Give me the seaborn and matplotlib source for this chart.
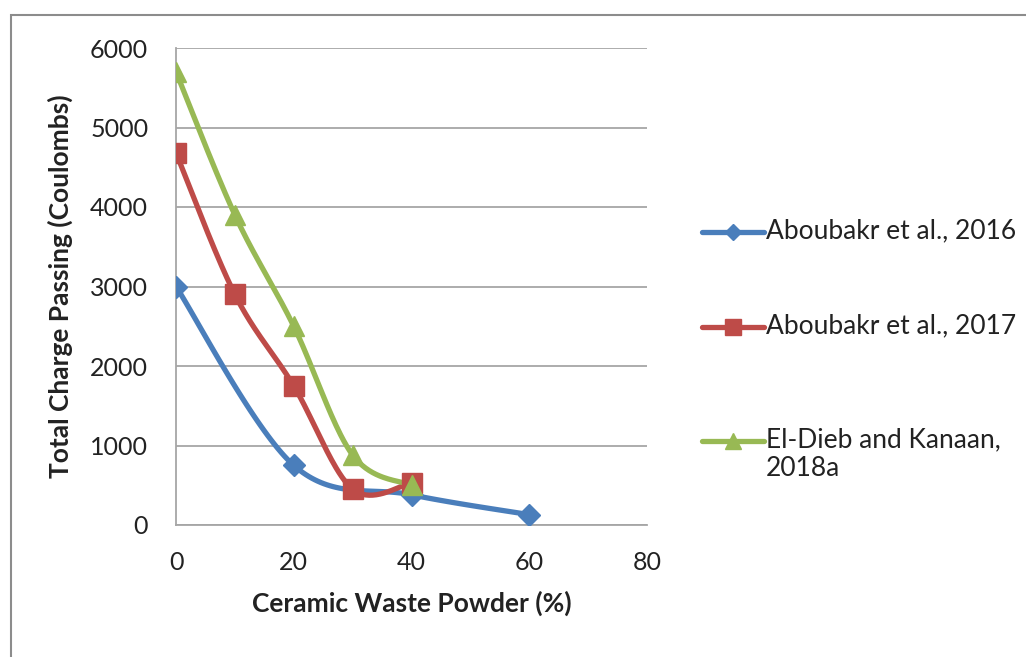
import numpy as np
import pandas as pd
import seaborn as sns
import matplotlib.pyplot as plt
from matplotlib.lines import Line2D
from matplotlib.patches import Rectangle

# Rapid chloride penetration data (total charge passing vs ceramic waste powder content)
series_names = ["Aboubakr et al., 2016", "Aboubakr et al., 2017", "El-Dieb and Kanaan,\n2018a"]
cwp_2016 = [0, 20, 40, 60]
charge_2016 = [3000, 750, 380, 130]
cwp_2017 = [0, 10, 20, 30, 40]
charge_2017 = [4680, 2900, 1750, 450, 530]
cwp_2018 = [0, 10, 20, 30, 40]
charge_2018 = [5700, 3900, 2500, 880, 500]

x_ticks = [0, 20, 40, 60, 80]
y_ticks = [0, 1000, 2000, 3000, 4000, 5000, 6000]

colors = ["#4A7EBB", "#BE4B48", "#98B954"]
markers = ["D", "s", "^"]
marker_sizes = [11, 15, 15]


def smooth(xs, ys, n=40):
    """Catmull-Rom spline through the points (spreadsheet-style smoothed line)."""
    p = np.column_stack([xs, ys]).astype(float)
    k = len(p)
    tang = np.zeros_like(p)
    for i in range(k):
        a = p[max(i - 1, 0)]
        b = p[min(i + 1, k - 1)]
        tang[i] = (b - a) / 2.0
    out = []
    t = np.linspace(0, 1, n)
    h00 = 2 * t**3 - 3 * t**2 + 1
    h10 = t**3 - 2 * t**2 + t
    h01 = -2 * t**3 + 3 * t**2
    h11 = t**3 - t**2
    for i in range(k - 1):
        seg = (h00[:, None] * p[i] + h10[:, None] * tang[i]
               + h01[:, None] * p[i + 1] + h11[:, None] * tang[i + 1])
        out.append(seg if i == 0 else seg[1:])
    s = np.vstack(out)
    return s[:, 0], s[:, 1]


sns.set_theme(style="white")
plt.rcParams['font.family'] = ['Lato', 'DejaVu Sans']

fig = plt.figure(figsize=(10.26, 6.57), dpi=100)
W, H = 1026, 657
ax = fig.add_axes([176 / W, 1 - 525 / H, (647 - 176) / W, (525 - 48) / H])

series = [(cwp_2016, charge_2016), (cwp_2017, charge_2017), (cwp_2018, charge_2018)]
for (xs, ys), name, c, m, ms in zip(series, series_names, colors, markers, marker_sizes):
    sx, sy = smooth(xs, ys)
    curve = pd.DataFrame({"x": sx, "y": sy})
    sns.lineplot(data=curve, x="x", y="y", sort=False, color=c, linewidth=3.8,
                 ax=ax, estimator=None, solid_capstyle="round")
    pts = pd.DataFrame({"x": xs, "y": ys})
    ax.plot(pts["x"], pts["y"], linestyle="none", marker=m, markersize=ms,
            color=c, markeredgecolor=c, zorder=5)

ax.set_xlim(0, 80)
ax.set_ylim(0, 6000)
ax.set_xticks(x_ticks)
ax.set_yticks(y_ticks)
ax.set_xticklabels([str(v) for v in x_ticks])
ax.set_yticklabels([str(v) for v in y_ticks])
ax.tick_params(axis="both", length=0, labelsize=18, colors="#222222")
ax.tick_params(axis="x", pad=19)
ax.tick_params(axis="y", pad=20)
ax.yaxis.grid(True, color="#A6A6A6", linewidth=1.3)
ax.xaxis.grid(False)
for side in ["top", "right"]:
    ax.spines[side].set_visible(False)
for side in ["left", "bottom"]:
    ax.spines[side].set_color("#A6A6A6")
    ax.spines[side].set_linewidth(1.3)

ax.set_xlabel("Ceramic Waste Powder (%)", fontsize=19, fontweight="bold",
              color="#222222", labelpad=12)
ax.set_ylabel("Total Charge Passing (Coulombs)", fontsize=19, fontweight="bold",
              color="#222222", labelpad=12)

# Legend drawn to the right of the plot area
legend_y = [232, 327, 441]
for name, c, m, ms, ly in zip(series_names, colors, markers, marker_sizes, legend_y):
    yf = 1 - ly / H
    fig.add_artist(Line2D([702 / W, 764 / W], [yf, yf], color=c, linewidth=3.8,
                          transform=fig.transFigure))
    fig.add_artist(Line2D([733 / W], [yf], color=c, marker=m, markersize=ms * 0.75,
                          linestyle="none", transform=fig.transFigure))
    fig.text(766 / W, yf + 14 / H, name, fontsize=19, color="#222222", va="top",
             ha="left", linespacing=1.2, transform=fig.transFigure)

# Chart frame
fig.add_artist(Rectangle((11 / W, -0.1), 1.2, 1 - 15 / H + 0.1, fill=False,
                         edgecolor="#8C8C8C", linewidth=1.5,
                         transform=fig.transFigure))

fig.savefig("out.png", dpi=100)
